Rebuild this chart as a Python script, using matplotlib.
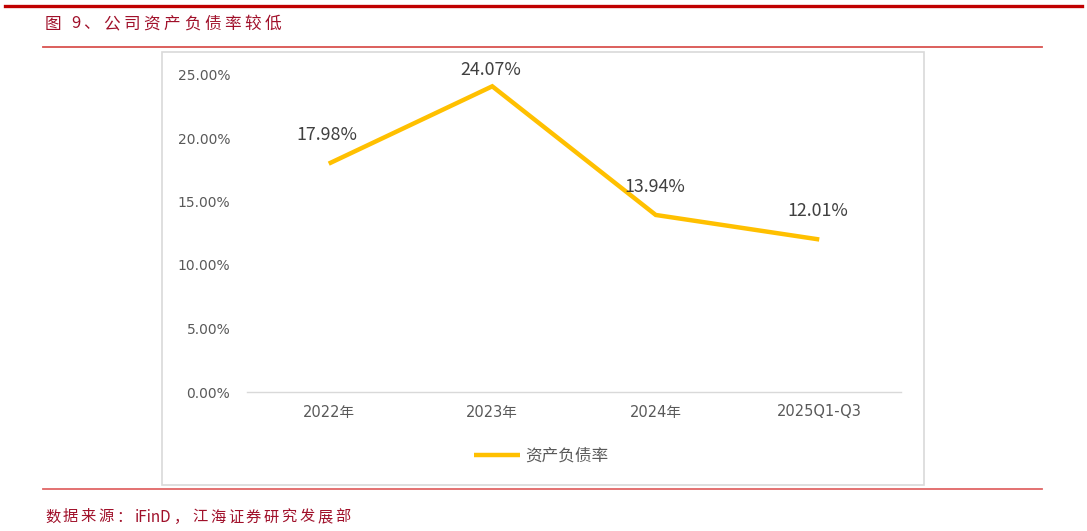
import matplotlib.pyplot as plt
from matplotlib.patches import Rectangle
from matplotlib.lines import Line2D
from matplotlib.ticker import FuncFormatter

plt.rcParams['font.family'] = ['Noto Sans CJK SC', 'DejaVu Sans']

# data
periods = ["2022年", "2023年", "2024年", "2025Q1-Q3"]
debt_ratio = [17.98, 24.07, 13.94, 12.01]
series_name = "资产负债率"
title = "图 9、公司资产负债率较低"
source = "数据来源：iFinD，江海证券研究发展部"

# label offsets in points (top label sits closer, as in the source chart)
label_offsets = [14, 5, 14, 14]

W, H = 1087, 531
fig = plt.figure(figsize=(W / 100, H / 100), dpi=100)
renderer = fig.canvas.get_renderer()

def fx(px):
    return px / W

def fy(py):
    return 1 - py / H

red = "#C00000"
light_red = "#D9534F"
gold = "#FFC000"
text_red = "#A0102A"
num_font = ['DejaVu Sans', 'Noto Sans CJK SC']


def spaced_text(x0, y0, s, size, advance, color):
    # place wide chars on a fixed pitch, latin runs at their own width
    x = x0
    run = ""
    def flush(x, run):
        if not run:
            return x
        t = fig.text(fx(x), fy(y0), run, fontsize=size, color=color, va="center", ha="left")
        bb = t.get_window_extent(renderer)
        return x + bb.width + 3
    for ch in s:
        if ord(ch) > 0x2000:
            x = flush(x, run)
            run = ""
            fig.text(fx(x), fy(y0), ch, fontsize=size, color=color, va="center", ha="left")
            x += advance
        elif ch == " ":
            x = flush(x, run) + 6
            run = ""
        else:
            run += ch
    flush(x, run)


# header / footer rules
fig.add_artist(Line2D([fx(5), fx(1082)], [fy(6), fy(6)], color=red, lw=2.4))
fig.add_artist(Line2D([fx(43), fx(1042)], [fy(47), fy(47)], color=light_red, lw=1.3))
fig.add_artist(Line2D([fx(43), fx(1042)], [fy(489), fy(489)], color="#E06666", lw=1.3))
spaced_text(45, 24, title, 12, 20.1, text_red)
spaced_text(45, 517, source, 11, 17.9, text_red)

# chart frame
fig.add_artist(Rectangle((fx(162), fy(485)), fx(924) - fx(162), fy(52) - fy(485),
                         transform=fig.transFigure, facecolor="white",
                         edgecolor="#D9D9D9", lw=1.2, zorder=-5))

ax = fig.add_axes([fx(247), fy(392), fx(901) - fx(247), fy(74.5) - fy(392)])
ax.set_facecolor("none")
x = list(range(len(periods)))
line, = ax.plot(x, debt_ratio, color=gold, lw=3.2, solid_capstyle="butt", solid_joinstyle="miter")
ax.set_xlim(-0.5, len(periods) - 0.5)
ax.set_ylim(0, 25)
ax.set_yticks([0, 5, 10, 15, 20, 25])
ax.yaxis.set_major_formatter(FuncFormatter(lambda v, p: "%.2f%%" % v))
ax.set_xticks(x)
ax.set_xticklabels(periods)
for s in ["top", "right", "left"]:
    ax.spines[s].set_visible(False)
ax.spines["bottom"].set_color("#D9D9D9")
ax.spines["bottom"].set_linewidth(1.0)
ax.tick_params(axis="both", length=0, colors="#595959")
ax.tick_params(axis="y", pad=12)
ax.tick_params(axis="x", pad=9)
for lab in ax.get_yticklabels():
    lab.set_family(num_font)
    lab.set_fontsize(10)
for lab in ax.get_xticklabels():
    lab.set_family(num_font)
    lab.set_fontsize(10.5)

for xi, v, off in zip(x, debt_ratio, label_offsets):
    ax.annotate("%.2f%%" % v, (xi, v), xytext=(-1, off), textcoords="offset points",
                ha="center", va="bottom", fontsize=12.8, color="#404040", annotation_clip=False)

fig.legend([line], [series_name], loc="center", bbox_to_anchor=(fx(541), fy(456)),
           frameon=False, fontsize=12, handlelength=2.8, handletextpad=0.3,
           labelcolor="#595959")

fig.savefig("out.png", dpi=100)
